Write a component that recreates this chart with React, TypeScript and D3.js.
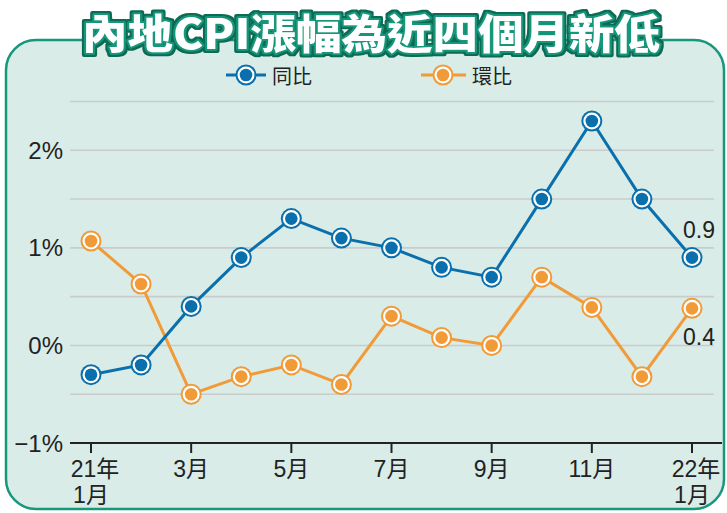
import React from "react";
import * as d3 from "d3";

const months = ["21年\n1月", "", "3月", "", "5月", "", "7月", "", "9月", "", "11月", "", "22年\n1月"];
const yoy = [-0.3, -0.2, 0.4, 0.9, 1.3, 1.1, 1.0, 0.8, 0.7, 1.5, 2.3, 1.5, 0.9];
const mom = [1.07, 0.63, -0.5, -0.32, -0.2, -0.4, 0.3, 0.08, 0.0, 0.7, 0.39, -0.32, 0.38];
const yTicks = [-1, 0, 1, 2];
const yLabels = ["\u22121%", "0%", "1%", "2%"];
const gridVals = [-0.5, 0, 0.5, 1, 1.5, 2, 2.5];
const seriesNames = ["同比", "環比"];
const endLabels = ["0.9", "0.4"];
const title = "內地CPI漲幅為近四個月新低";

const W = 727, H = 513;
const BLUE = "#0a6fad";
const ORANGE = "#f19a38";
const TEAL = "#17977c";
const BG = "#d9ece7";
const FONT = "'Liberation Sans', Arial, 'Noto Sans CJK TC', sans-serif";

export default function App() {
  const x = d3.scaleLinear().domain([0, 12]).range([91, 692]);
  const y = d3.scaleLinear().domain([-1, 2.5]).range([443, 101.5]);
  const line = d3.line<number>().x((_, i) => x(i)).y((d) => y(d));

  const marker = (cx: number, cy: number, color: string, key: string) => (
    <g key={key}>
      <circle cx={cx} cy={cy} r={10.5} fill={color} />
      <circle cx={cx} cy={cy} r={8.5} fill="#fff" />
      <circle cx={cx} cy={cy} r={6.3} fill={color} />
    </g>
  );

  return (
    <svg width={W} height={H} style={{ position: "absolute", left: 0, top: 0 }}>
      <defs>
        <filter id="outline" x="-5%" y="-30%" width="110%" height="160%">
          <feMorphology in="SourceAlpha" operator="dilate" radius={1.6} result="dil" />
          <feFlood floodColor="#0d6b52" />
          <feComposite in2="dil" operator="in" result="dark" />
          <feMerge>
            <feMergeNode in="dark" />
            <feMergeNode in="SourceGraphic" />
          </feMerge>
        </filter>
      </defs>
      <rect x={0} y={0} width={W} height={H} fill="#fff" />
      <rect x={6} y={40} width={718} height={469} rx={30} ry={30} fill={BG} stroke={TEAL} strokeWidth={2.5} />

      {/* title */}
      <text
        x={371}
        y={48.5}
        textAnchor="middle"
        textLength={578}
        lengthAdjust="spacingAndGlyphs"
        fontFamily="'Noto Sans CJK TC', sans-serif"
        fontWeight={900}
        fontSize={41}
        fill="#fff"
        stroke={TEAL}
        strokeWidth={4}
        strokeLinejoin="round"
        filter="url(#outline)"
        style={{ paintOrder: "stroke" }}
      >
        {title}
      </text>

      {/* legend */}
      <line x1={226} x2={266} y1={75} y2={75} stroke={BLUE} strokeWidth={3} />
      {marker(246, 75, BLUE, "lb")}
      <text x={272} y={84} fontSize={20} fontFamily="'Noto Sans CJK TC', sans-serif" fill="#222">{seriesNames[0]}</text>
      <line x1={421} x2={466} y1={75} y2={75} stroke={ORANGE} strokeWidth={3} />
      {marker(443, 75, ORANGE, "lo")}
      <text x={472} y={84} fontSize={20} fontFamily="'Noto Sans CJK TC', sans-serif" fill="#222">{seriesNames[1]}</text>

      {/* grid */}
      {gridVals.map((v) => (
        <line key={v} x1={70} x2={714} y1={y(v)} y2={y(v)} stroke="#c9cccb" strokeWidth={1.6} />
      ))}

      {/* y labels */}
      {yTicks.map((v, i) => (
        <text key={v} x={63} y={y(v) + 8.5} textAnchor="end" fontSize={24} fontFamily={FONT} fill="#222">
          {yLabels[i]}
        </text>
      ))}

      {/* x axis */}
      <line x1={70} x2={722} y1={y(-1)} y2={y(-1)} stroke="#222" strokeWidth={2} />
      {months.map((m, i) =>
        m ? (
          <g key={i}>
            <line x1={x(i)} x2={x(i)} y1={y(-1)} y2={y(-1) + 10} stroke="#222" strokeWidth={2} />
            {m.split("\n").map((s, j) => (
              <text key={j} x={x(i) + (j === 0 && m.includes("\n") ? 4 : 0)} y={477 + j * 26} textAnchor="middle" fontSize={23} fontFamily={FONT} fill="#222">
                {s}
              </text>
            ))}
          </g>
        ) : null
      )}

      {/* lines */}
      <path d={line(mom) || ""} fill="none" stroke={ORANGE} strokeWidth={3} />
      <path d={line(yoy) || ""} fill="none" stroke={BLUE} strokeWidth={3} />
      {mom.map((v, i) => marker(x(i), y(v), ORANGE, "m" + i))}
      {yoy.map((v, i) => marker(x(i), y(v), BLUE, "y" + i))}

      {/* value labels */}
      <text x={699} y={238} textAnchor="middle" fontSize={23} fontFamily={FONT} fill="#222">{endLabels[0]}</text>
      <text x={699} y={345} textAnchor="middle" fontSize={23} fontFamily={FONT} fill="#222">{endLabels[1]}</text>
    </svg>
  );
}
